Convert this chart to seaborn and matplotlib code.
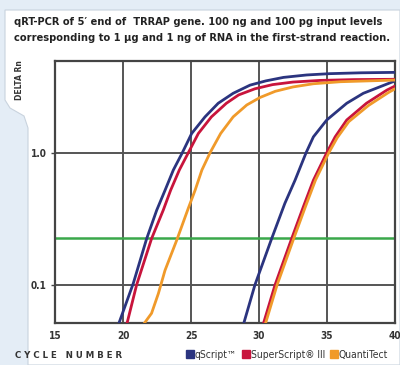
import matplotlib
matplotlib.use("Agg")
import matplotlib.pyplot as plt
import seaborn as sns
import pandas as pd
from matplotlib.patches import Polygon
from matplotlib.lines import Line2D

# ---- data ----
kits = ["qScript\u2122", "SuperScript\u00ae III", "QuantiTect"]
colors = ["#2b347f", "#c8143c", "#f09a2a"]

q_hi_c = [19.66, 20.76, 21.74, 22.48, 23.09, 23.7, 24.36, 25.05, 26.03, 27.0, 28.1, 29.34, 30.5, 31.8, 33.5, 35.2, 37.5, 40]
q_hi_v = [0.05, 0.103, 0.224, 0.368, 0.52, 0.74, 1.0, 1.40, 1.87, 2.37, 2.82, 3.25, 3.5, 3.72, 3.88, 3.97, 4.03, 4.06]
s_hi_c = [20.27, 21.0, 22.1, 22.96, 23.5, 24.14, 24.8, 25.54, 26.5, 27.6, 28.5, 29.7, 31.0, 32.5, 34.5, 37.0, 40]
s_hi_v = [0.05, 0.1, 0.224, 0.368, 0.52, 0.74, 1.0, 1.40, 1.87, 2.37, 2.74, 3.05, 3.28, 3.43, 3.53, 3.58, 3.6]
t_hi_c = [21.49, 22.1, 22.6, 23.09, 23.95, 24.8, 25.3, 25.8, 26.4, 27.18, 28.1, 29.1, 30.07, 31.2, 32.5, 34.0, 36.0, 40]
t_hi_v = [0.05, 0.061, 0.086, 0.129, 0.218, 0.38, 0.52, 0.74, 1.0, 1.40, 1.87, 2.3, 2.62, 2.92, 3.15, 3.33, 3.45, 3.55]

q_lo_c = [28.85, 29.7, 30.93, 31.9, 32.65, 33.46, 34.0, 34.98, 36.45, 37.67, 38.9, 40]
q_lo_v = [0.05, 0.1, 0.224, 0.414, 0.62, 1.0, 1.32, 1.77, 2.37, 2.82, 3.16, 3.5]
s_lo_c = [30.3, 31.18, 32.4, 33.26, 34.0, 34.98, 35.6, 36.45, 37.9, 39.4, 40]
s_lo_v = [0.05, 0.1, 0.224, 0.39, 0.62, 1.0, 1.32, 1.77, 2.37, 2.98, 3.2]
t_lo_c = [30.45, 31.33, 32.55, 33.41, 34.15, 35.13, 35.75, 36.6, 38.05, 39.5, 40]
t_lo_v = [0.05, 0.1, 0.224, 0.39, 0.62, 1.0, 1.3, 1.72, 2.28, 2.85, 3.05]

threshold = 0.225
x_ticks = [15, 20, 25, 30, 35, 40]
y_ticks = [0.1, 1.0]
y_tick_labels = ["0.1", "1.0"]

series = [
    (kits[0], "100 ng", q_hi_c, q_hi_v), (kits[1], "100 ng", s_hi_c, s_hi_v), (kits[2], "100 ng", t_hi_c, t_hi_v),
    (kits[0], "100 pg", q_lo_c, q_lo_v), (kits[1], "100 pg", s_lo_c, s_lo_v), (kits[2], "100 pg", t_lo_c, t_lo_v),
]
rows = []
for kit, inp, cs, vs in series:
    for c, v in zip(cs, vs):
        rows.append({"cycle": c, "delta_rn": v, "kit": kit, "input": inp})
df = pd.DataFrame(rows)

# ---- figure ----
sns.set_theme(style="white")
plt.rcParams["font.family"] = ["DejaVu Sans"]
fig = plt.figure(figsize=(4.0, 3.65), dpi=100, facecolor="#e4edf6")
W, H = 400, 365

def fx(px):
    return px / W

def fy(py):
    return 1 - py / H

# white panel background
panel = Polygon([(fx(5), fy(10)), (fx(400), fy(10)), (fx(400), fy(365)), (fx(28), fy(365)),
                 (fx(28), fy(128)), (fx(24), fy(116)), (fx(10), fy(108)), (fx(5), fy(100))],
                closed=True, transform=fig.transFigure, facecolor="white", edgecolor="#c9d3de", lw=0.8,
                zorder=-5)
fig.patches.append(panel)

ax = fig.add_axes([fx(55), fy(323), fx(395) - fx(55), fy(61) - fy(323)])
ax.set_zorder(2)
ax.set_facecolor("white")

sns.lineplot(data=df, x="cycle", y="delta_rn", hue="kit", hue_order=kits, palette=colors,
             units="input", estimator=None, sort=False, lw=2.0, ax=ax, legend=False, zorder=3)
ax.axhline(threshold, color="#3aa84a", lw=1.8, zorder=2)

ax.set_yscale("log")
ax.set_xlim(15, 40)
ax.set_ylim(0.0515, 4.95)
ax.set_xticks(x_ticks)
ax.set_xticklabels([str(t) for t in x_ticks])
ax.set_yticks(y_ticks)
ax.set_yticklabels(y_tick_labels)
ax.yaxis.set_minor_locator(matplotlib.ticker.NullLocator())
for t in [20, 25, 30, 35]:
    ax.axvline(t, color="#555555", lw=1.4, zorder=1)
for t in y_ticks:
    ax.axhline(t, color="#555555", lw=1.4, zorder=1)
for s in ax.spines.values():
    s.set_color("#444444")
    s.set_linewidth(1.6)
ax.tick_params(axis="both", length=3, width=1, color="#444444", labelsize=7.2, pad=3,
               labelcolor="#333333")
ax.tick_params(axis="x", bottom=True, length=0, pad=6)
ax.tick_params(axis="y", left=True)
for lab in ax.get_xticklabels() + ax.get_yticklabels():
    lab.set_fontweight("bold")
    lab.set_fontstretch("condensed")
ax.set_xlabel("")
ax.set_ylabel("")

# titles and labels
title_kw = dict(fontsize=7.9, fontweight="bold", fontstretch="condensed", color="#222222",
                va="center", ha="left")
fig.text(fx(14), fy(22), "qRT-PCR of 5\u2032 end of  TRRAP gene. 100 ng and 100 pg input levels", **title_kw)
fig.text(fx(14), fy(38), "corresponding to 1 \u00b5g and 1 ng of RNA in the first-strand reaction.", **title_kw)
fig.text(fx(19), fy(80), "DELTA Rn", rotation=90, fontsize=5.5, fontweight="bold", color="#333333",
         va="center", ha="center")
fig.text(fx(15), fy(355), "C Y C L E   N U M B E R", fontsize=6.2, fontweight="bold", color="#333333",
         va="center", ha="left")

# legend
handles = [Line2D([], [], marker="s", ls="none", color=c, markersize=5.5) for c in colors]
leg = fig.legend(handles, kits, loc="center left", bbox_to_anchor=(fx(186), fy(355)), ncol=3,
                 frameon=False, prop=dict(size=7.4, stretch="condensed"), handletextpad=0.05,
                 columnspacing=0.5, handlelength=0.8, borderaxespad=0, borderpad=0)
for t in leg.get_texts():
    t.set_color("#333333")

fig.savefig("out.png", dpi=100, facecolor=fig.get_facecolor())
